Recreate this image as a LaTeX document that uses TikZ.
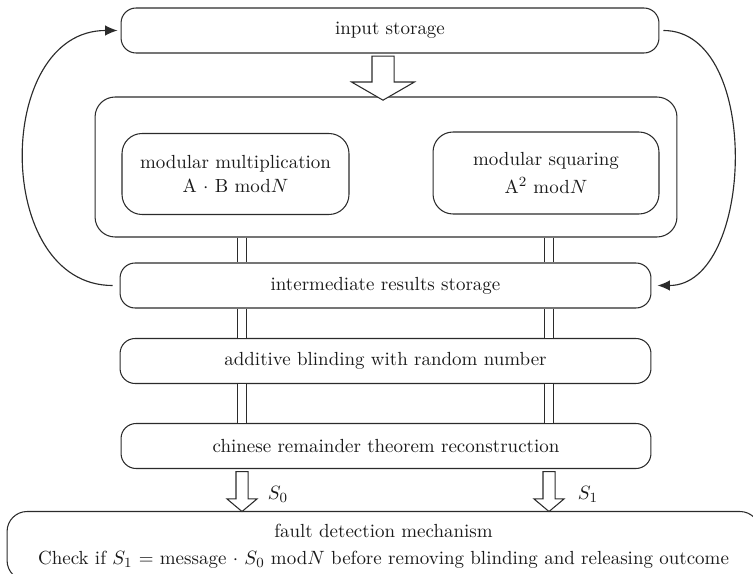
\documentclass[tikz,border=0pt]{standalone}
\usepackage{xcolor}
\usepackage{tikz}
\usetikzlibrary{arrows.meta,shapes.arrows}
\definecolor{flowline}{HTML}{2B2B2B}
\definecolor{flowtext}{HTML}{1A1A1A}
\tikzset{
  stage/.style={draw=flowline,rounded corners=0.3cm,line width=0.6pt,
    text=flowtext,align=center,inner sep=0pt,minimum height=0.9cm},
  unit/.style={draw=flowline,rounded corners=0.4cm,line width=0.6pt,
    text=flowtext,align=center,inner sep=0pt},
  link/.style={draw=flowline,line width=0.5pt,double,double distance=0.16cm},
  hollow/.style={single arrow,draw=flowline,fill=white,line width=0.6pt,
    inner xsep=0pt,rotate=-90},
  feedback/.style={draw=flowline,line width=0.65pt,
    -{Latex[length=2.5mm,width=2.1mm]}}
}

\begin{document}
\begin{tikzpicture}[x=0.02cm,y=-0.02cm,font=\fontsize{10.8}{13.6}\selectfont]
  \useasboundingbox (0,0) rectangle (753,574);
  \coordinate (colL) at (242,0);
  \coordinate (colR) at (549,0);
  \node[stage,minimum width=10.76cm] (input) at (390,30.5) {input storage};
  \node[unit,minimum width=11.64cm,minimum height=2.8cm] (core) at (386,167) {};
  \node[unit,minimum width=4.54cm,minimum height=1.62cm] (mult) at (235.5,174)
    {modular multiplication\\[0.5pt] A $\cdot$ B mod$N$};
  \node[unit,minimum width=4.52cm,minimum height=1.64cm] (square) at (546,173)
    {modular squaring\\[2pt] A$^2$ mod$N$};
  \node[stage,minimum width=10.62cm] (inter) at (385.5,285.5)
    {intermediate results storage};
  \node[stage,minimum width=10.62cm] (blind) at (385.5,361)
    {additive blinding with random number};
  \node[stage,minimum width=10.6cm] (crt) at (386,446)
    {chinese remainder theorem reconstruction};
  \node[unit,minimum width=15.06cm,minimum height=1.38cm] (fault) at (383.5,546)
    {fault detection mechanism\\[2pt] Check if $S_1$ = message $\cdot$ $S_0$ mod$N$
     before removing blinding and releasing outcome};
  % block arrows
  \node[hollow,inner ysep=0.21cm,minimum height=0.88cm,
    single arrow head extend=0.41cm,single arrow tip angle=120] (load) at (383,75) {};
  \node[hollow,inner ysep=0.11cm,minimum height=0.8cm,
    single arrow head extend=0.18cm,single arrow tip angle=100] (outL) at (242,489) {};
  \node[hollow,inner ysep=0.11cm,minimum height=0.8cm,
    single arrow head extend=0.18cm,single arrow tip angle=100] (outR) at (549,489) {};
  \node[text=flowtext] (s0) at (278,494) {$S_0$};
  \node[text=flowtext] (s1) at (588,494) {$S_1$};
  % double lines down both columns
  \foreach \a/\b in {core/inter,inter/blind,blind/crt} {
    \draw[link] (\a.south -| colL) -- (\b.north -| colL);
    \draw[link] (\a.south -| colR) -- (\b.north -| colR);
  }
  % feedback loops
  \draw[feedback,shorten <=0.14cm,shorten >=0.06cm]
    (inter.west) to[out=180,in=180,looseness=1.27] (input.west);
  \draw[feedback,shorten <=0.08cm,shorten >=0.12cm]
    (input.east) to[out=0,in=0,looseness=1.03] (inter.east);
\end{tikzpicture}
\end{document}
